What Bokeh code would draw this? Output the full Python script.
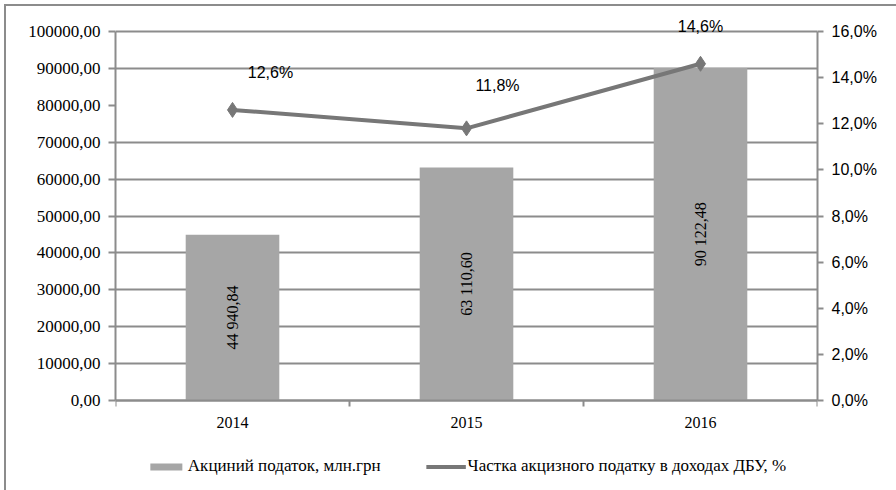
import numpy as np
from bokeh.plotting import figure
from bokeh.models import (Range1d, LinearAxis, FixedTicker, CustomJSTickFormatter,
                          ColumnDataSource, LabelSet, Legend, LegendItem)
from bokeh.core.properties import value
from bokeh.embed import file_html
from bokeh.resources import INLINE

# ---- data ----
years = ["2014", "2015", "2016"]
excise_tax = [44940.84, 63110.60, 90122.48]          # млн.грн
excise_share = [0.126, 0.118, 0.146]                 # частка у доходах ДБУ
bar_name = "Акциний податок, млн.грн"
line_name = "Частка акцизного податку в доходах ДБУ, %"
left_ticks = [0, 10000, 20000, 30000, 40000, 50000, 60000, 70000, 80000, 90000, 100000]
right_ticks = [0.0, 0.02, 0.04, 0.06, 0.08, 0.10, 0.12, 0.14, 0.16]
left_max = 100000
right_max = 0.16

# ---- styling ----
BAR_COLOR = "#A6A6A6"
LINE_COLOR = "#777777"
AXIS_COLOR = "#8C8C8C"
SERIF = "Liberation Serif"
SANS = "Liberation Sans"
AXIS_PX = 369      # pixel height of the 0..max axis span
HEAD_PX = 16       # room above the top gridline for labels
FOOT_PX = 76       # room below the x axis for category labels and legend

xs = np.arange(len(years)) + 0.5
top_f = (AXIS_PX + HEAD_PX) / AXIS_PX
bot_f = -FOOT_PX / AXIS_PX

p = figure(frame_width=702, frame_height=AXIS_PX + HEAD_PX + FOOT_PX,
           min_border_left=109, min_border_right=79, min_border_top=9, min_border_bottom=14,
           x_range=Range1d(0, len(years)), y_range=Range1d(left_max * bot_f, left_max * top_f),
           output_backend="svg", toolbar_location=None)
p.extra_y_ranges = {"pct": Range1d(right_max * bot_f, right_max * top_f)}
p.outline_line_color = None
p.xgrid.grid_line_color = None
p.ygrid.ticker = FixedTicker(ticks=[t for t in left_ticks if t != 80000])
p.ygrid.grid_line_color = AXIS_COLOR
p.ygrid.grid_line_width = 2
p.styles = {"border-left": "2px solid #8C8C8C", "border-top": "2px solid #8C8C8C",
            "margin-left": "4px", "margin-top": "4px"}

# x axis, pinned to value 0 inside the frame
xa = p.xaxis[0]
xa.fixed_location = 0
xa.ticker = FixedTicker(ticks=list(xs), minor_ticks=list(range(len(years) + 1)))
xa.major_label_overrides = {float(x): y for x, y in zip(xs, years)}
xa.major_tick_out = 0
xa.major_tick_in = 0
xa.minor_tick_out = 6
xa.minor_tick_in = 0
xa.minor_tick_line_color = AXIS_COLOR
xa.minor_tick_line_width = 2
xa.axis_line_color = AXIS_COLOR
xa.axis_line_width = 2
xa.major_label_text_font = SERIF
xa.major_label_text_font_size = "16px"
xa.major_label_text_color = "black"
xa.major_label_standoff = 10

# left axis
ya = p.yaxis[0]
ya.bounds = (0, left_max)
ya.ticker = FixedTicker(ticks=left_ticks)
ya.formatter = CustomJSTickFormatter(code="return tick.toFixed(2).replace('.', ',');")
ya.major_tick_out = 7
ya.major_tick_in = 0
ya.minor_tick_out = 0
ya.minor_tick_in = 0
ya.major_tick_line_color = AXIS_COLOR
ya.major_tick_line_width = 2
ya.axis_line_color = AXIS_COLOR
ya.axis_line_width = 2
ya.major_label_text_font = SERIF
ya.major_label_text_font_size = "17px"
ya.major_label_text_color = "black"
ya.major_label_standoff = 8

# right axis
ra = LinearAxis(y_range_name="pct", ticker=FixedTicker(ticks=right_ticks), bounds=(0, right_max),
                formatter=CustomJSTickFormatter(code="return (tick*100).toFixed(1).replace('.', ',') + '%';"))
ra.major_tick_out = 6
ra.major_tick_in = 0
ra.minor_tick_out = 0
ra.minor_tick_in = 0
ra.major_tick_line_color = AXIS_COLOR
ra.major_tick_line_width = 2
ra.axis_line_color = AXIS_COLOR
ra.axis_line_width = 2
ra.major_label_text_font = SANS
ra.major_label_text_font_size = "16px"
ra.major_label_text_color = "black"
ra.major_label_standoff = 8
p.add_layout(ra, "right")

# bars
bar_src = ColumnDataSource(dict(
    x=xs, top=excise_tax, mid=[v / 2 for v in excise_tax],
    lab=[f"{v:,.2f}".replace(",", " ").replace(".", ",") for v in excise_tax]))
bars = p.vbar(x="x", top="top", bottom=0, width=0.4, source=bar_src,
              fill_color=BAR_COLOR, line_color=None)
p.add_layout(LabelSet(x="x", y="mid", text="lab", source=bar_src, angle=np.pi / 2,
                      text_align="center", text_baseline="middle",
                      text_font=value(SERIF), text_font_size=value("16px"), text_color="black"))

# line
line_src = ColumnDataSource(dict(
    x=xs, y=excise_share,
    lab=[f"{v * 100:.1f}%".replace(".", ",") for v in excise_share],
    dx=[38, 31, 0], dy=[37, 43, 37]))
ln = p.line(x="x", y="y", source=line_src, y_range_name="pct", line_color=LINE_COLOR, line_width=4)
mk = p.scatter(x="x", y="y", source=line_src, y_range_name="pct", marker="diamond", size=15,
               fill_color=LINE_COLOR, line_color=LINE_COLOR)
p.add_layout(LabelSet(x="x", y="y", text="lab", source=line_src, y_range_name="pct",
                      x_offset="dx", y_offset="dy", text_align="center", text_baseline="middle",
                      text_font=value(SANS), text_font_size=value("16px"), text_color="black"))

# legend inside the (extended) frame, under the category labels
legend = Legend(items=[LegendItem(label=bar_name, renderers=[bars]),
                       LegendItem(label=line_name, renderers=[ln, mk])],
                orientation="horizontal", location="bottom_center",
                border_line_color=None, background_fill_alpha=0,
                glyph_width=40, glyph_height=9, spacing=45, label_standoff=2,
                label_text_font=SERIF, label_text_font_size="17px", label_text_color="black",
                margin=0, padding=4)
p.add_layout(legend, "center")

open("out.html", "w").write(file_html(p, INLINE))
